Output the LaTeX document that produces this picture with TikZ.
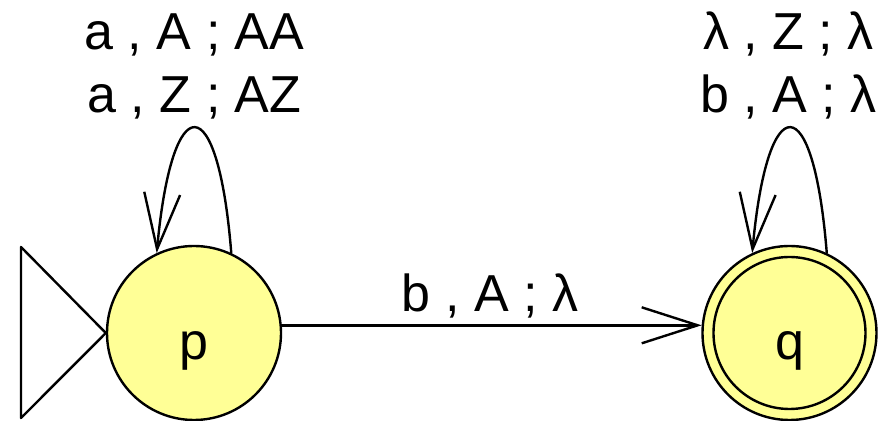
\documentclass[tikz,border=0pt]{standalone}
\usepackage{fontspec}
\setmainfont{Liberation Sans}
\usetikzlibrary{arrows.meta}
\definecolor{stateyellow}{HTML}{FFFF96}
\tikzset{
  every picture/.style={line join=round, line cap=round, >={Straight Barb[length=28pt,width=18pt]}},
  state/.style={circle, draw, fill=stateyellow, line width=1.2pt, minimum size=87pt, inner sep=0pt, text height=27pt, text depth=0pt},
  trans/.style={->, line width=1.2pt},
  lbl/.style={anchor=base, inner sep=0pt},
}

\begin{document}
\begin{tikzpicture}[x=0.5pt,y=-0.5pt,font=\fontsize{26}{30}\selectfont]
\useasboundingbox (0,0) rectangle (890,421);
\node[state] (p) at (194,333) {p};
\node[state] (q) at (789.5,333) {q};
\draw[line width=1.2pt] (q) circle[radius=38pt];
% start marker
\draw[line width=1.2pt] (p.west)--(21,247)--(21,418)--cycle;
% transitions
\draw[trans] (p.65) .. controls (218,86) and (172,86) .. (p.115);
\draw[trans] (q.65) .. controls (813.5,86) and (767.5,86) .. (q.115);
\draw[trans] (p.5)--(q.175);
\node[lbl] (pa) at (194.5,50) {a , A ; AA};
\node[lbl] (pb) at (194.5,113) {a , Z ; AZ};
\node[lbl] (qa) at (788.5,50) {λ , Z ; λ};
\node[lbl] (qb) at (788.5,113) {b , A ; λ};
\node[lbl] (pq) at (490,312) {b , A ; λ};
\end{tikzpicture}
\end{document}
